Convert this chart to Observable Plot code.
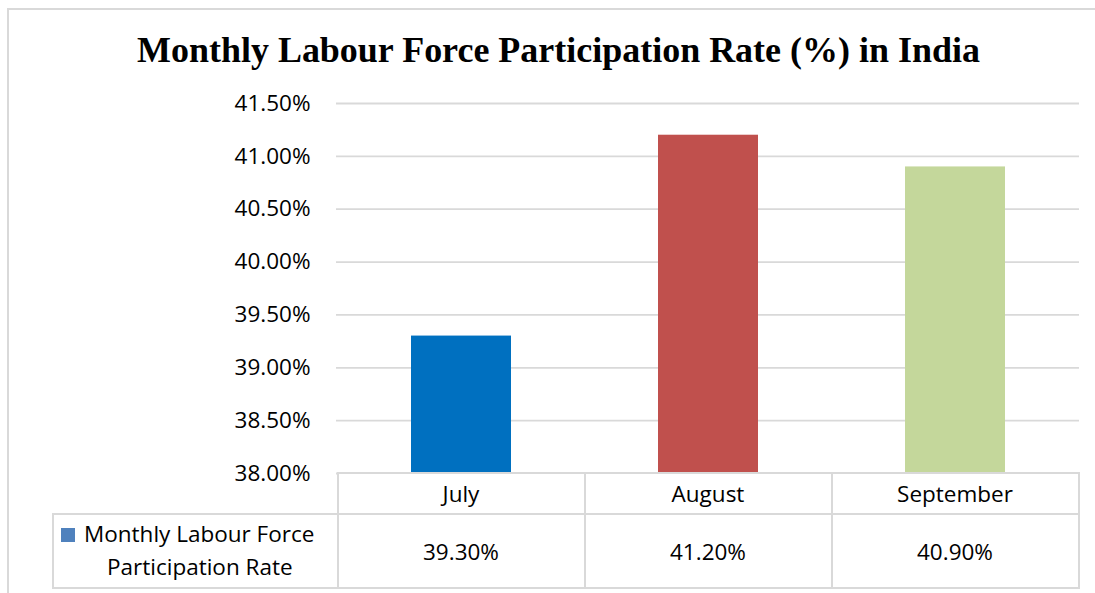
<!DOCTYPE html>
<html>
<head>
<meta charset="utf-8">
<script src="https://cdn.jsdelivr.net/npm/d3@7"></script>
<script src="https://cdn.jsdelivr.net/npm/@observablehq/plot@0.6"></script>
<style>
  html, body { margin: 0; padding: 0; background: #fff; width: 1095px; height: 593px; overflow: hidden; }
  #frame { position: absolute; left: 7px; top: 8px; width: 1110px; height: 620px; box-sizing: border-box;
           border-left: 2px solid #d9d9d9; border-top: 2px solid #d9d9d9; }
  #title { position: absolute; left: 0; top: 32px; white-space: nowrap; line-height: 1;
           font-family: "Liberation Serif", serif; font-weight: bold; font-size: 35px; color: #000; }
  #chart { position: absolute; left: 0; top: 85px; }
  .cell { position: absolute; box-sizing: border-box; border: 2px solid #d9d9d9;
          display: flex; align-items: center; justify-content: center; text-align: center;
          font-family: "Open Sans", sans-serif; font-size: 22.5px; color: #000; background: #fff; }
  .cell.legend { justify-content: flex-start; text-align: left; }
  .key { display: inline-block; width: 14px; height: 14px; margin-right: 9px; vertical-align: 0px; }
</style>
</head>
<body>
<div id="frame"></div>
<div id="title"></div>
<div id="chart"></div>
<div id="table"></div>
<script>
// ---- data ----
const titleText = "Monthly Labour Force Participation Rate (%) in India";
const months = ["July", "August", "September"];
const rates = [39.30, 41.20, 40.90];           // percent
const barColors = ["#0070C0", "#C0504D", "#C4D79B"];
const yTicks = [38.0, 38.5, 39.0, 39.5, 40.0, 40.5, 41.0, 41.5];
const seriesName = ["Monthly Labour Force", "Participation Rate"];
const seriesKeyColor = "#4F81BD";

const data = months.map((m, i) => ({month: m, rate: rates[i]}));
const fmt = v => d3.format(".2f")(v) + "%";

// ---- title (fit to reference width) ----
const title = document.getElementById("title");
title.textContent = titleText;
const targetW = 843;
let fs = 35;
fs = fs * targetW / title.offsetWidth;
title.style.fontSize = fs + "px";
title.style.left = (558.5 - title.offsetWidth / 2) + "px";
title.style.top = (62 - 0.8375 * fs) + "px";

// ---- chart ----
const W = 1095, H = 400, mTop = 18, mBottom = 12, mLeft = 336, mRight = 16;
const chart = Plot.plot({
  width: W, height: H,
  marginTop: mTop, marginBottom: mBottom, marginLeft: mLeft, marginRight: mRight,
  style: {background: "transparent", fontFamily: "Open Sans, sans-serif", fontSize: "22.5px", color: "#000", overflow: "visible"},
  x: {domain: months, paddingInner: 0.596, paddingOuter: 0.298, axis: null},
  y: {domain: [yTicks[0], yTicks[yTicks.length - 1]], ticks: yTicks, tickFormat: fmt, label: null},
  color: {domain: months, range: barColors},
  marks: [
    Plot.gridY(yTicks, {stroke: "#d9d9d9", strokeOpacity: 1, strokeWidth: 1.8}),
    Plot.axisY(yTicks, {tickSize: 0, tickPadding: 26, tickFormat: fmt, label: null, fill: "#000", fontSize: 22.5}),
    Plot.barY(data, {x: "month", y1: yTicks[0], y2: "rate", fill: "month"})
  ]
});
document.getElementById("chart").appendChild(chart);

// ---- data table under the plot, aligned to the x band scale ----
const sx = chart.scale("x");
const bw = sx.bandwidth;
const step = sx.step != null ? sx.step : (W - mLeft - mRight) / months.length;
const chartTop = 85;
const row1Top = chartTop + H - mBottom;   // bottom of plot frame
const row1H = 41, row2H = 74;
const table = document.getElementById("table");
function cell(x, y, w, h, html, cls) {
  const d = document.createElement("div");
  d.className = "cell" + (cls ? " " + cls : "");
  d.style.left = (x - 1) + "px";
  d.style.top = (y - 1) + "px";
  d.style.width = (w + 2) + "px";
  d.style.height = (h + 2) + "px";
  d.innerHTML = html;
  table.appendChild(d);
  return d;
}
months.forEach((m, i) => {
  const c = sx.apply(m) + bw / 2;
  const left = c - step / 2;
  cell(left, row1Top, step, row1H, m);
  cell(left, row1Top + row1H, step, row2H, fmt(rates[i]));
});
const firstLeft = sx.apply(months[0]) + bw / 2 - step / 2;
const legendLeft = 53;
cell(legendLeft, row1Top + row1H, firstLeft - legendLeft, row2H,
  `<div style="line-height:33px;margin-top:-2px;padding-left:7px">` +
  `<div><span class="key" style="background:${seriesKeyColor}"></span>${seriesName[0]}</div>` +
  `<div style="padding-left:46px">${seriesName[1]}</div></div>`, "legend");
</script>
</body>
</html>
